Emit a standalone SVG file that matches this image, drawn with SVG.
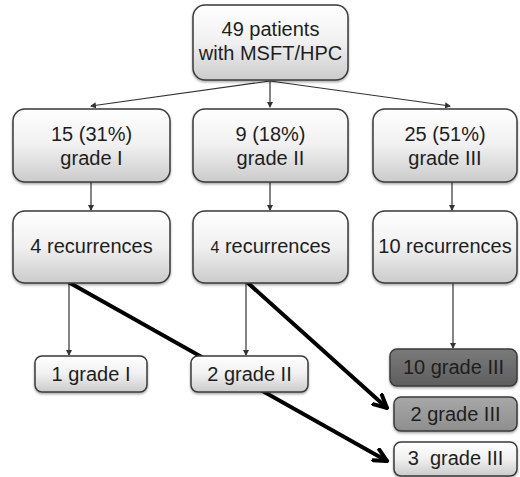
<svg xmlns="http://www.w3.org/2000/svg" width="520" height="477" viewBox="0 0 520 477">
<style>
.box{stroke:#3a3a3a;stroke-width:1.5;filter:url(#sh)}
.g{fill:url(#gw)}
.t{font-family:"Liberation Sans",Arial,sans-serif;font-size:20px;fill:#1e1e1e;text-anchor:middle}
.thin{stroke:#333;stroke-width:1.2;fill:none;marker-end:url(#sa)}
.thick{stroke:#000;stroke-width:4;fill:none;stroke-linecap:round}
</style>
<defs>
<linearGradient id="gw" x1="0" y1="0" x2="0" y2="1">
<stop offset="0" stop-color="#ffffff"/><stop offset="0.5" stop-color="#f0f0f0"/><stop offset="1" stop-color="#cbcbcb"/>
</linearGradient>
<linearGradient id="gd" x1="0" y1="0" x2="0" y2="1">
<stop offset="0" stop-color="#7a7a7a"/><stop offset="1" stop-color="#5e5e5e"/>
</linearGradient>
<linearGradient id="gm" x1="0" y1="0" x2="0" y2="1">
<stop offset="0" stop-color="#a8a8a8"/><stop offset="1" stop-color="#8e8e8e"/>
</linearGradient>
<filter id="sh" x="-10%" y="-10%" width="120%" height="130%">
<feDropShadow dx="0" dy="1.5" stdDeviation="1.2" flood-color="#000" flood-opacity="0.35"/>
</filter>
<marker id="sa" markerWidth="6" markerHeight="6" refX="5" refY="3" orient="auto" markerUnits="userSpaceOnUse">
<path d="M0,0 L6,3 L0,6 Z" fill="#333"/>
</marker>
<marker id="ba" markerWidth="16" markerHeight="16" refX="14" refY="8" orient="auto" markerUnits="userSpaceOnUse">
<path d="M1,1.5 L14,8 L1,14.5" fill="none" stroke="#000" stroke-width="4" stroke-linejoin="miter" stroke-linecap="round"/>
</marker>
</defs>
<g id="connectors">
<line class="thin" x1="270" y1="81" x2="91" y2="106"/>
<line class="thin" x1="270" y1="81" x2="270" y2="107"/>
<line class="thin" x1="270" y1="81" x2="450" y2="106"/>
<line class="thin" x1="91" y1="182" x2="91" y2="210"/>
<line class="thin" x1="270" y1="182" x2="270" y2="210"/>
<line class="thin" x1="452" y1="182" x2="452" y2="210"/>
<line class="thin" x1="69" y1="283" x2="69" y2="355"/>
<line class="thin" x1="246" y1="283" x2="246" y2="355"/>
<line class="thin" x1="453" y1="283" x2="453" y2="348"/>
<line class="thick" x1="70" y1="283" x2="387" y2="461" marker-end="url(#ba)"/>
<line class="thick" x1="248" y1="283" x2="387" y2="408" marker-end="url(#ba)"/>
</g>
<g id="n-top">
<rect class="box g" x="193" y="5" width="155" height="75" rx="12"/>
<text class="t" x="270.5" y="36">49 patients</text>
<text class="t" x="270.5" y="60">with MSFT/HPC</text>
</g>
<g id="n-g1">
<rect class="box g" x="13" y="109" width="157" height="73" rx="12"/>
<text class="t" x="91.5" y="141">15 (31%)</text>
<text class="t" x="91.5" y="165">grade I</text>
</g>
<g id="n-g2">
<rect class="box g" x="193" y="109" width="155" height="73" rx="12"/>
<text class="t" x="270.5" y="141">9 (18%)</text>
<text class="t" x="270.5" y="165">grade II</text>
</g>
<g id="n-g3">
<rect class="box g" x="373" y="109" width="144" height="73" rx="12"/>
<text class="t" x="445" y="141">25 (51%)</text>
<text class="t" x="445" y="165">grade III</text>
</g>
<g id="n-r1">
<rect class="box g" x="13" y="211" width="157" height="72" rx="12"/>
<text class="t" x="91.5" y="253">4 recurrences</text>
</g>
<g id="n-r2">
<rect class="box g" x="193" y="211" width="155" height="72" rx="12"/>
<text class="t" x="270.5" y="253"><tspan font-size="16">4</tspan> recurrences</text>
</g>
<g id="n-r3">
<rect class="box g" x="373" y="211" width="144" height="72" rx="12"/>
<text class="t" x="445" y="253">10 recurrences</text>
</g>
<g id="n-1g1">
<rect class="box g" x="35" y="356" width="112" height="36" rx="7"/>
<text class="t" x="91" y="381">1 grade I</text>
</g>
<g id="n-2g2">
<rect class="box g" x="191" y="356" width="117" height="36" rx="7"/>
<text class="t" x="249.5" y="381">2 grade II</text>
</g>
<g id="n-10g3">
<rect class="box" fill="url(#gd)" x="390" y="349" width="127" height="37" rx="7"/>
<text class="t" x="453.5" y="374">10 grade III</text>
</g>
<g id="n-2g3">
<rect class="box" fill="url(#gm)" x="394" y="397" width="123" height="34" rx="7"/>
<text class="t" x="455.5" y="421">2 grade III</text>
</g>
<g id="n-3g3">
<rect class="box g" x="394" y="442" width="123" height="34" rx="7"/>
<text class="t" x="455.5" y="465" xml:space="preserve">3  grade III</text>
</g>
</svg>
